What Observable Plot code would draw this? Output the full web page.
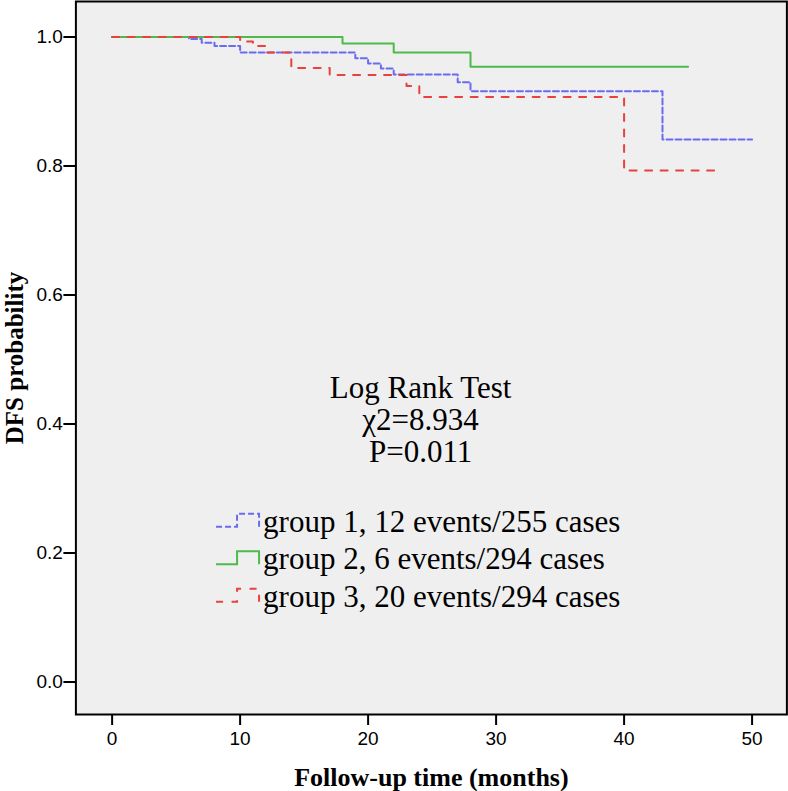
<!DOCTYPE html>
<html>
<head>
<meta charset="utf-8">
<script src="https://cdn.jsdelivr.net/npm/d3@7"></script>
<script src="https://cdn.jsdelivr.net/npm/@observablehq/plot@0.6"></script>
<style>
  body { margin: 0; background: #fff; }
  #chart svg { display: block; }
  #chart svg g[aria-label$="tick label"] text { font-size: 19px; font-family: 'Liberation Sans', Arial, sans-serif; }
</style>
</head>
<body>
<div id="chart"></div>
<script>
// ---- data ----
const groupNames = ["group 1", "group 2", "group 3"];
const groupLabels = [
  "group 1, 12 events/255 cases",
  "group 2, 6 events/294 cases",
  "group 3, 20 events/294 cases"
];
const group1Months = [0, 6, 7, 8, 10, 19, 20, 21, 22, 27, 28, 43, 50];
const group1Surv   = [1, 0.997, 0.991, 0.986, 0.976, 0.967, 0.959, 0.951, 0.942, 0.930, 0.916, 0.841, 0.841];
const group2Months = [0, 18, 22, 28, 45];
const group2Surv   = [1, 0.990, 0.976, 0.954, 0.954];
const group3Months = [0, 10, 11, 12, 14, 17, 23, 24, 40, 47.5];
const group3Surv   = [1, 0.993, 0.986, 0.976, 0.952, 0.941, 0.924, 0.907, 0.793, 0.793];
const xTicks = [0, 10, 20, 30, 40, 50];
const yTicks = [0, 0.2, 0.4, 0.6, 0.8, 1.0];
const statLines = ["Log Rank Test", "χ2=8.934", "P=0.011"];
const xTitle = "Follow-up time (months)";
const yTitle = "DFS probability";

// ---- styles / layout ----
const colors = ["#6b6bef", "#4cbb4c", "#e8413e"];
const dashes = ["6,3", null, "7,8.5"];
const serif = "'Liberation Serif', 'Times New Roman', serif";
const sans = "'Liberation Sans', Arial, sans-serif";
const legendAnchor = {x: 8.16, y: 0.232};
const statAnchor = {x: 24.1, y: 0.4747};

const series = [
  {months: group1Months, surv: group1Surv},
  {months: group2Months, surv: group2Surv},
  {months: group3Months, surv: group3Surv}
];
const rows = series.flatMap((s, gi) =>
  s.months.map((m, i) => ({group: groupNames[gi], month: m, surv: s.surv[i]}))
);

const lineMarks = groupNames.map((g, gi) =>
  Plot.line(rows.filter(d => d.group === g), {
    x: "month", y: "surv", curve: "step-after",
    stroke: colors[gi], strokeWidth: 2,
    strokeDasharray: dashes[gi] || undefined
  })
);

function legendMark(index, scales) {
  const g = d3.create("svg:g");
  const x0 = scales.x(legendAnchor.x);
  const y0 = scales.y(legendAnchor.y);
  const rowGap = 37.5;
  groupNames.forEach((name, i) => {
    const yb = y0 + i * rowGap;
    const low = yb - 5, high = yb - 18;
    const p = g.append("path")
      .attr("d", `M${x0},${low}H${x0 + 21}V${high}H${x0 + 43}V${low}`)
      .attr("fill", "none")
      .attr("stroke", colors[i])
      .attr("stroke-width", 2);
    if (dashes[i]) p.attr("stroke-dasharray", dashes[i]);
    g.append("text")
      .attr("x", x0 + 47)
      .attr("y", yb)
      .attr("text-anchor", "start")
      .attr("font-family", serif)
      .attr("font-size", 31)
      .attr("fill", "#000")
      .text(groupLabels[i]);
  });
  return g.node();
}

const plot = Plot.plot({
  width: 788,
  height: 791,
  marginLeft: 75.4,
  marginRight: 1.6,
  marginTop: 1,
  marginBottom: 77,
  style: {fontFamily: sans, fontSize: "18px", background: "#fff", color: "#000"},
  x: {domain: [-2.83, 52.72]},
  y: {domain: [-0.0504, 1.055]},
  marks: [
    Plot.frame({fill: "#efefef"}),
    ...lineMarks,
    Plot.text([statLines.join("\n")], {
      x: () => statAnchor.x, y: () => statAnchor.y,
      text: d => d, lineAnchor: "top", lineHeight: 1.023,
      fontFamily: serif, fontSize: 31, fill: "#000"
    }),
    legendMark,
    Plot.axisX({ticks: xTicks, tickSize: 11, tickPadding: 6, strokeWidth: 2, label: null}),
    Plot.axisY({ticks: yTicks, tickSize: 12, tickPadding: 1, strokeWidth: 2, tickFormat: d3.format(".1f"), label: null}),
    Plot.text([xTitle], {
      frameAnchor: "bottom", dy: 71, lineAnchor: "bottom",
      fontFamily: serif, fontWeight: "bold", fontSize: 26, fill: "#000"
    }),
    Plot.text([yTitle], {
      frameAnchor: "left", dx: -53, rotate: -90, lineAnchor: "bottom", textAnchor: "middle",
      fontFamily: serif, fontWeight: "bold", fontSize: 25, fill: "#000"
    }),
    Plot.frame({stroke: "#000", strokeWidth: 2})
  ]
});
document.getElementById("chart").appendChild(plot);
</script>
</body>
</html>
